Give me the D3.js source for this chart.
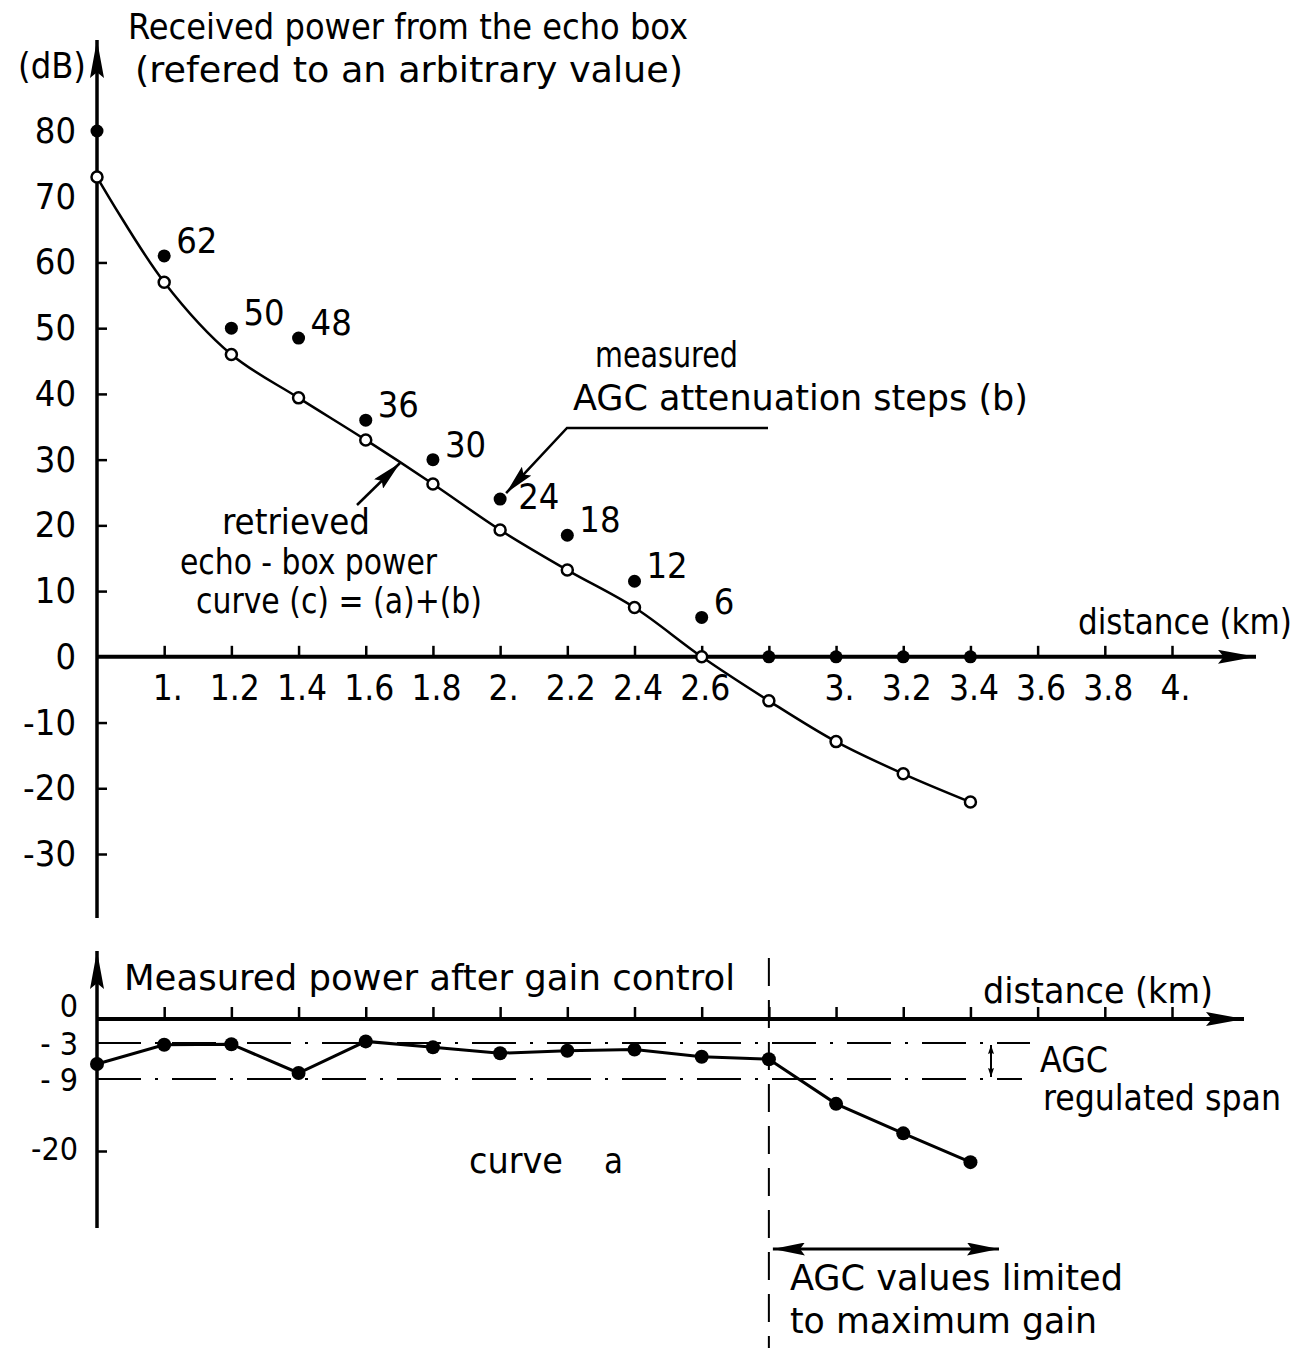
<!DOCTYPE html>
<html>
<head>
<meta charset="utf-8">
<script src="https://cdn.jsdelivr.net/npm/d3@7"></script>
<style>
  body { margin: 0; background: #fff; }
  text { font-family: "DejaVu Sans", sans-serif; font-stretch: condensed; fill: #000; }
</style>
</head>
<body>
<div id="chart"></div>
<script>
// distances (km) of the measuring points
var distances = [0.8, 1.0, 1.2, 1.4, 1.6, 1.8, 2.0, 2.2, 2.4, 2.6, 2.8, 3.0, 3.2, 3.4];

// (b) measured AGC attenuation steps (filled dots) and their labels
var agcSteps = [80, 61, 50, 48.5, 36, 30, 24, 18.5, 11.5, 6, 0, 0, 0, 0];
var agcLabels = ["", "62", "50", "48", "36", "30", "24", "18", "12", "6", "", "", "", ""];

// (c) retrieved echo-box power (open circles)
var echoPower = [73, 57, 46, 39.4, 33, 26.3, 19.3, 13.2, 7.5, 0, -6.7, -12.9, -17.8, -22.1];

// (a) measured power after gain control
var powerAfterGain = [-6.5, -3.3, -3.2, -8, -2.8, -3.7, -4.7, -4.3, -4.1, -5.3, -5.7, -12.8, -17.3, -21.7];

// axis ticks
var xTicks = [1.0, 1.2, 1.4, 1.6, 1.8, 2.0, 2.2, 2.4, 2.6, 2.8, 3.0, 3.2, 3.4, 3.6, 3.8, 4.0];
var xTickLabels = ["1.", "1.2", "1.4", "1.6", "1.8", "2.", "2.2", "2.4", "2.6", "", "3.", "3.2", "3.4", "3.6", "3.8", "4."];
var yTicksTop = [80, 70, 60, 50, 40, 30, 20, 10, 0, -10, -20, -30];
var yTicksBottom = [0, -3, -9, -20];
var yTickLabelsBottom = ["0", "- 3", "- 9", "-20"];

// AGC regulated span and limit
var agcSpan = [-3, -9];
var agcLimitDistance = 2.8;

var svgWidth = 1309;
var svgHeight = 1348;

var svg = d3.select("#chart")
    .append("svg")
    .attr("width", svgWidth)
    .attr("height", svgHeight);

// arrow heads
var defs = svg.append("defs");
function addMarker(id, len, wid) {
    defs.append("marker")
        .attr("id", id)
        .attr("viewBox", `0 0 ${len} ${wid}`)
        .attr("refX", len)
        .attr("refY", wid / 2)
        .attr("markerWidth", len)
        .attr("markerHeight", wid)
        .attr("markerUnits", "userSpaceOnUse")
        .attr("orient", "auto-start-reverse")
        .append("path")
        .attr("d", `M0,0 L${len},${wid / 2} L0,${wid} L${len * 0.15},${wid / 2} Z`)
        .attr("fill", "#000");
}
addMarker("axisArrow", 38, 14);
addMarker("leadArrow", 30, 13);
addMarker("spanArrow", 32, 13);
addMarker("smallArrow", 9, 6);

// scales
var x = d3.scaleLinear().domain([0.8, 4.0]).range([97, 1172]);
var yTop = d3.scaleLinear().domain([-30, 80]).range([854, 131]);
// the lower axis is drawn schematically: the -3 / -9 band is stretched a little
var yBot = d3.scaleLinear().domain([-20, -9, -3, 0]).range([1151, 1079, 1043, 1019]);

function label(txt, xPos, yPos, len, size) {
    return svg.append("text")
        .attr("x", xPos)
        .attr("y", yPos)
        .attr("font-size", size || 36)
        .attr("textLength", len)
        .attr("lengthAdjust", "spacingAndGlyphs")
        .text(txt);
}

// ---------- Top chart ----------

var topXAxis = svg.append("g")
    .attr("transform", `translate(0, ${yTop(0)})`)
    .call(d3.axisBottom(x)
        .tickValues(xTicks)
        .tickSize(-11)
        .tickPadding(18)
        .tickFormat((d, i) => xTickLabels[i]));
topXAxis.select(".domain").remove();
topXAxis.selectAll("line").attr("stroke-width", 2.5);
topXAxis.selectAll("text")
    .attr("font-size", 35)
    .attr("dx", 3)
    .attr("font-family", null);

var topYAxis = svg.append("g")
    .attr("transform", `translate(${x(0.8)}, 0)`)
    .call(d3.axisLeft(yTop)
        .tickValues(yTicksTop)
        .tickSize(-10)
        .tickPadding(21)
        .tickFormat(d => d));
topYAxis.select(".domain").remove();
topYAxis.selectAll("line").attr("stroke-width", 2.5);
topYAxis.selectAll(".tick").filter(d => d >= 70 || d === 0).select("line").remove();
topYAxis.selectAll("text")
    .attr("font-size", 36)
    .attr("font-family", null);

// axis lines with arrows
svg.append("line")
    .attr("x1", x(0.8)).attr("x2", 1256)
    .attr("y1", yTop(0)).attr("y2", yTop(0))
    .attr("stroke", "#000").attr("stroke-width", 4)
    .attr("marker-end", "url(#axisArrow)");
svg.append("line")
    .attr("x1", x(0.8)).attr("x2", x(0.8))
    .attr("y1", 918).attr("y2", 40)
    .attr("stroke", "#000").attr("stroke-width", 3.5)
    .attr("marker-end", "url(#axisArrow)");

// retrieved echo-box power curve (c)
var echoData = distances.map((d, i) => ({ d: d, v: echoPower[i] }));
var echoLine = d3.line()
    .x(p => x(p.d))
    .y(p => yTop(p.v))
    .curve(d3.curveCatmullRom.alpha(0.5));
svg.append("path")
    .datum(echoData)
    .attr("d", echoLine)
    .attr("fill", "none")
    .attr("stroke", "#000")
    .attr("stroke-width", 2.5);

svg.append("g")
    .selectAll("circle")
    .data(echoData)
    .enter()
    .append("circle")
    .attr("cx", p => x(p.d))
    .attr("cy", p => yTop(p.v))
    .attr("r", 5.5)
    .attr("fill", "#fff")
    .attr("stroke", "#000")
    .attr("stroke-width", 2.5);

// measured AGC attenuation steps (b)
var stepData = distances.map((d, i) => ({ d: d, v: agcSteps[i], lab: agcLabels[i], i: i }));
svg.append("g")
    .selectAll("circle")
    .data(stepData)
    .enter()
    .append("circle")
    .attr("cx", p => x(p.d))
    .attr("cy", p => yTop(p.v))
    .attr("r", 6.5)
    .attr("fill", "#000");

// the label of the point the leader arrow points at sits lower, beside the arrow
var pointedStep = 6;
svg.append("g")
    .selectAll("text")
    .data(stepData.filter(p => p.lab !== ""))
    .enter()
    .append("text")
    .attr("x", p => x(p.d) + (p.i === pointedStep ? 18 : 12))
    .attr("y", p => yTop(p.v) + (p.i === pointedStep ? 10 : -3))
    .attr("font-size", 36)
    .text(p => p.lab);

// titles and annotations
label("Received power from the echo box", 128, 39, 560);
label("(refered to an arbitrary value)", 135, 82, 548);
label("(dB)", 18, 78, 68);
label("distance (km)", 1078, 634, 214);
label("measured", 595, 367, 143);
label("AGC attenuation steps (b)", 573, 410, 455);
label("retrieved", 222, 534, 148);
label("echo - box power", 180, 574, 257);
label("curve (c) = (a)+(b)", 196, 613, 286);

svg.append("polyline")
    .attr("points", `768,428 567,428 ${x(2.0) + 6},${yTop(agcSteps[pointedStep]) - 6}`)
    .attr("fill", "none")
    .attr("stroke", "#000")
    .attr("stroke-width", 2.5)
    .attr("marker-end", "url(#leadArrow)");
svg.append("line")
    .attr("x1", 357).attr("y1", 505)
    .attr("x2", 400).attr("y2", 463)
    .attr("stroke", "#000")
    .attr("stroke-width", 2.5)
    .attr("marker-end", "url(#leadArrow)");

// ---------- Bottom chart ----------

var botXAxis = svg.append("g")
    .attr("transform", `translate(0, ${yBot(0)})`)
    .call(d3.axisBottom(x)
        .tickValues(xTicks)
        .tickSize(-12)
        .tickFormat(""));
botXAxis.select(".domain").remove();
botXAxis.selectAll("line").attr("stroke-width", 2.5);

var botYAxis = svg.append("g")
    .attr("transform", `translate(${x(0.8)}, 0)`)
    .call(d3.axisLeft(yBot)
        .tickValues(yTicksBottom)
        .tickSize(-10)
        .tickPadding(19)
        .tickFormat((d, i) => yTickLabelsBottom[i]));
botYAxis.select(".domain").remove();
botYAxis.selectAll("line").attr("stroke-width", 2.5);
botYAxis.selectAll(".tick").filter(d => d !== -20).select("line").remove();
// labels are crowded: "0" sits above the axis line
botYAxis.selectAll("text")
    .attr("font-size", 32)
    .attr("font-family", null)
    .attr("y", d => d === 0 ? -13 : (d === -20 ? -2 : 1));

svg.append("line")
    .attr("x1", x(0.8)).attr("x2", 1244)
    .attr("y1", yBot(0)).attr("y2", yBot(0))
    .attr("stroke", "#000").attr("stroke-width", 4)
    .attr("marker-end", "url(#axisArrow)");
svg.append("line")
    .attr("x1", x(0.8)).attr("x2", x(0.8))
    .attr("y1", 1228).attr("y2", 951)
    .attr("stroke", "#000").attr("stroke-width", 3.5)
    .attr("marker-end", "url(#axisArrow)");

// AGC regulated span (dash-dot lines)
svg.append("g")
    .selectAll("line")
    .data(agcSpan)
    .enter()
    .append("line")
    .attr("x1", x(0.8))
    .attr("x2", (d, i) => i === 0 ? 1030 : 1022)
    .attr("y1", d => yBot(d))
    .attr("y2", d => yBot(d))
    .attr("stroke", "#000")
    .attr("stroke-width", 2)
    .attr("stroke-dasharray", "44 14 3 14");

svg.append("line")
    .attr("x1", 991).attr("x2", 991)
    .attr("y1", yBot(agcSpan[0]) + 2).attr("y2", yBot(agcSpan[1]) - 2)
    .attr("stroke", "#000").attr("stroke-width", 2)
    .attr("marker-start", "url(#smallArrow)")
    .attr("marker-end", "url(#smallArrow)");

// limit of AGC (vertical dashed line)
svg.append("line")
    .attr("x1", x(agcLimitDistance)).attr("x2", x(agcLimitDistance))
    .attr("y1", 958).attr("y2", svgHeight)
    .attr("stroke", "#000")
    .attr("stroke-width", 2)
    .attr("stroke-dasharray", "28 14");

// curve a
var gainData = distances.map((d, i) => ({ d: d, v: powerAfterGain[i] }));
svg.append("path")
    .datum(gainData)
    .attr("d", d3.line().x(p => x(p.d)).y(p => yBot(p.v)))
    .attr("fill", "none")
    .attr("stroke", "#000")
    .attr("stroke-width", 3);

svg.append("g")
    .selectAll("circle")
    .data(gainData)
    .enter()
    .append("circle")
    .attr("cx", p => x(p.d))
    .attr("cy", p => yBot(p.v))
    .attr("r", 7)
    .attr("fill", "#000");

// horizontal double arrow
svg.append("line")
    .attr("x1", x(agcLimitDistance) + 4).attr("x2", 999)
    .attr("y1", 1249).attr("y2", 1249)
    .attr("stroke", "#000").attr("stroke-width", 3)
    .attr("marker-start", "url(#spanArrow)")
    .attr("marker-end", "url(#spanArrow)");

label("Measured power after gain control", 124, 990, 611);
label("distance (km)", 983, 1003, 230);
label("AGC", 1040, 1072, 68);
label("regulated span", 1043, 1110, 238);
label("curve", 469, 1173, 94);
label("a", 604, 1173, 19);
label("AGC values limited", 790, 1290, 333);
label("to maximum gain", 790, 1333, 307);
</script>
</body>
</html>
